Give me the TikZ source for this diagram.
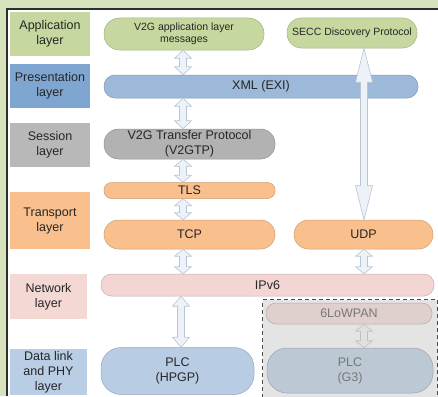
\documentclass[tikz,border=0pt]{standalone}
\usepackage{fontspec}
\setmainfont{Liberation Sans}
\usetikzlibrary{positioning, calc}

\definecolor{framegreen}{HTML}{D6E3BC}
\definecolor{framedark}{HTML}{2E2E2E}
\definecolor{appgreen}{HTML}{C6D89F}
\definecolor{presblue}{HTML}{7FA6D1}
\definecolor{xmlblue}{HTML}{9CB9DA}
\definecolor{sessgray}{HTML}{B8B8B8}
\definecolor{v2ggray}{HTML}{B2B2B2}
\definecolor{orange}{HTML}{F9BF8C}
\definecolor{netpink}{HTML}{F4D8D4}
\definecolor{ipvpink}{HTML}{F3D6D3}
\definecolor{linkblue}{HTML}{B9CEE4}
\definecolor{plcblue}{HTML}{B8CDE3}
\definecolor{lowpan}{HTML}{DFCFCD}
\definecolor{plcgray}{HTML}{BCC8D3}
\definecolor{zonegray}{HTML}{E4E4E4}
\definecolor{graytext}{HTML}{787878}
\definecolor{arrowfill}{HTML}{EDF2F8}
\definecolor{arrowline}{HTML}{B9C5D3}

\tikzset{
	layer/.style={fill=#1, minimum width=80pt, minimum height=44pt, inner sep=0pt, align=center, text=black!85, font=\fontsize{12.5}{15}\selectfont},
	pill/.style={fill=#1, draw=#1!82!black, line width=0.5pt, rounded corners=14.5pt, inner sep=1pt, align=center, text=black!85, font=\fontsize{12.5}{15}\selectfont},
	small/.style={font=\fontsize{10.5}{12}\selectfont},
	zone/.style={fill=zonegray, draw=black!70, line width=1.1pt, dash pattern=on 4pt off 3pt, inner sep=0pt},
	link/.style={fill=arrowfill, draw=arrowline, line width=0.6pt, line join=round},
}

\newcommand{\updown}[4]{%
	\draw[link, #4] let \p1=(#1), \p2=(#2) in
		(\x1,\y1) -- (\x1+8.5pt,\y1-#3) -- (\x1+3.5pt,\y1-#3) -- (\x1+3.5pt,\y2+#3)
		-- (\x1+8.5pt,\y2+#3) -- (\x1,\y2) -- (\x1-8.5pt,\y2+#3) -- (\x1-3.5pt,\y2+#3)
		-- (\x1-3.5pt,\y1-#3) -- (\x1-8.5pt,\y1-#3) -- cycle;}

\begin{document}
\begin{tikzpicture}[x=1pt, y=-1pt]
	\useasboundingbox (0,0) rectangle (438,396);
	\fill[framegreen] (0,0) rectangle (438,396);
	\fill[white] (7,9) rectangle (438,396);
	\draw[framedark, line width=1.3pt] (7,396) |- (438,9);

	\node[layer=appgreen] (applbl) at (50,34) {Application\\layer};
	\node[layer=presblue] (preslbl) at (50,86) {Presentation\\layer};
	\node[layer=sessgray] (sesslbl) at (50,145) {Session\\layer};
	\node[layer=orange, minimum height=57pt] (translbl) at (50,220.5) {Transport\\layer};
	\node[layer=netpink, minimum width=77pt, minimum height=45pt] (netlbl) at (48.5,296.5) {Network\\layer};
	\node[layer=linkblue, minimum width=77pt, minimum height=46pt] (linklbl) at (48.5,372) {Data link\\and PHY\\layer};

	\node[pill=appgreen, small, minimum width=160pt, minimum height=32pt, rounded corners=15.5pt] (msgs) at (184,34) {V2G application layer\\messages};
	\node[pill=appgreen, small, minimum width=130pt, minimum height=30pt] (secc) at (352,33) {SECC Discovery Protocol};
	\node[pill=xmlblue, minimum width=314pt, minimum height=23pt, rounded corners=11pt] (xml) at (261,86.5) {XML (EXI)};
	\node[pill=v2ggray, minimum width=171pt, minimum height=30pt] (v2gtp) at (189.5,144) {V2G Transfer Protocol\\(V2GTP)};
	\node[pill=orange, minimum width=171pt, minimum height=16pt, rounded corners=7.5pt, inner sep=0pt] (tls) at (189.5,190.5) {TLS};
	\node[pill=orange, minimum width=171pt, minimum height=29pt] (tcp) at (189.5,234.5) {TCP};
	\node[pill=orange, minimum width=139pt, minimum height=29pt] (udp) at (363.5,234.5) {UDP};
	\node[pill=ipvpink, minimum width=333pt, minimum height=22pt, rounded corners=10.5pt] (ipv6) at (267.5,285) {IPv6};

	\node[zone, anchor=north west, minimum width=175pt, minimum height=102pt] (gzone) at (262,299) {};
	\node[pill=lowpan, text=graytext, minimum width=166pt, minimum height=21pt, rounded corners=10pt] (lowpan) at (349,313.5) {6LoWPAN};
	\node[pill=plcgray, text=graytext, minimum width=166pt, minimum height=45pt, rounded corners=20pt] (plcgthree) at (350,370.5) {PLC\\(G3)};
	\node[pill=plcblue, minimum width=153pt, minimum height=47pt, rounded corners=20pt] (plchpgp) at (177.5,371) {PLC\\(HPGP)};

	\coordinate (colA) at (183,0);
	\coordinate (colB) at (364,0);
	\coordinate (colC) at (181,0);

	\updown{msgs.south -| colA}{xml.north -| colA}{8pt}{}
	\updown{xml.south -| colA}{v2gtp.north -| colA}{8pt}{}
	\updown{v2gtp.south -| colA}{tls.north -| colA}{7pt}{}
	\updown{tls.south -| colA}{tcp.north -| colA}{7pt}{}
	\updown{tcp.south -| colA}{ipv6.north -| colA}{7pt}{}
	\updown{ipv6.south -| colC}{plchpgp.north -| colC}{10pt}{}
	\updown{secc.south -| colB}{udp.north -| colB}{34pt}{}
	\updown{udp.south -| colB}{ipv6.north -| colB}{7pt}{}
	\updown{lowpan.south -| colB}{plcgthree.north -| colB}{7pt}{fill=black!12, draw=black!25}
\end{tikzpicture}
\end{document}
